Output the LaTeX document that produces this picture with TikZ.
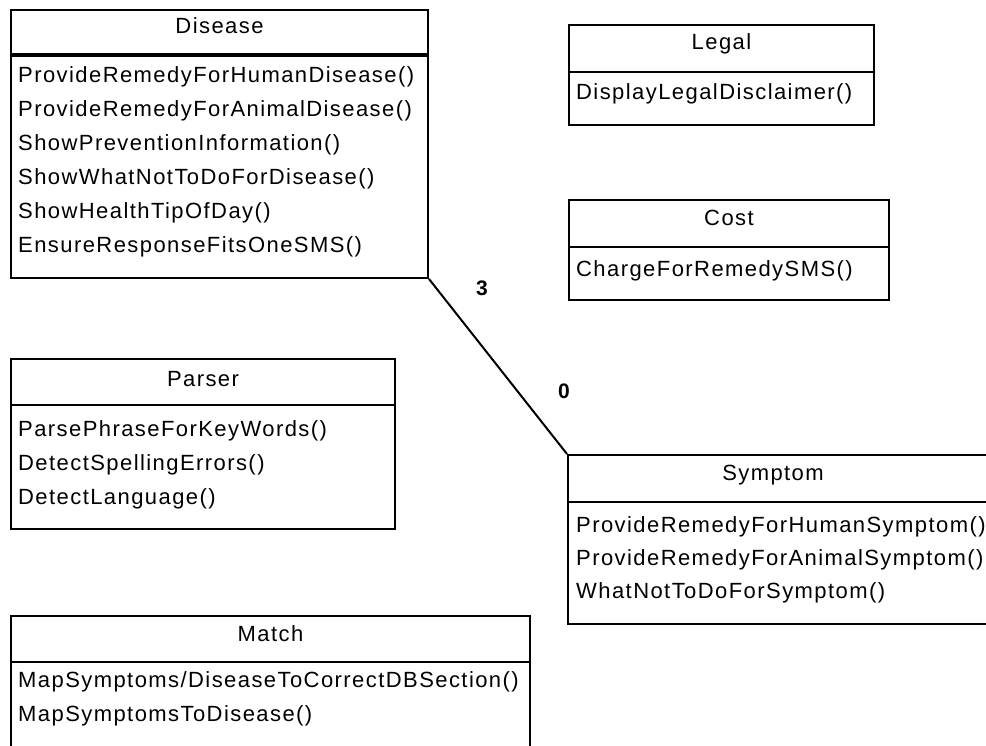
\documentclass[tikz,border=0pt]{standalone}
\usepackage{fontspec}
\newfontfamily\umlfont[LetterSpace=6.5]{Liberation Sans}
\newfontfamily\multfont{Liberation Sans}
\begin{document}
\begin{tikzpicture}[x=1pt,y=-1pt,
  classbox/.style={draw, line width=2pt, anchor=north west, inner sep=0pt},
  sepline/.style={line width=2pt},
  ctitle/.style={anchor=base, inner sep=0pt, font=\umlfont\fontsize{22}{26}\selectfont},
  method/.style={anchor=base west, inner sep=0pt, font=\umlfont\fontsize{22}{26}\selectfont},
  mult/.style={inner sep=0pt, font=\multfont\bfseries\fontsize{21}{24}\selectfont},
  assoc/.style={line width=2pt}]
\useasboundingbox (0,0) rectangle (986,746);
\fill[white] (0,0) rectangle (986,746);
\clip (0,0) rectangle (986,746);

% Disease
\node[classbox, minimum width=417pt, minimum height=268pt] (disease) at (10,9) {};
\draw[line width=3.5pt] (disease.west |- 0,55) -- (disease.east |- 0,55);
\node[ctitle] (diseaseT) at (disease.north |- 0,34) {Disease};
\node[method] (d1) at (18,83) {ProvideRemedyForHumanDisease()};
\node[method] (d2) at (18,117) {ProvideRemedyForAnimalDisease()};
\node[method] (d3) at (18,151) {ShowPreventionInformation()};
\node[method] (d4) at (18,185) {ShowWhatNotToDoForDisease()};
\node[method] (d5) at (18,219) {ShowHealthTipOfDay()};
\node[method] (d6) at (18,253) {EnsureResponseFitsOneSMS()};

% Legal
\node[classbox, minimum width=305pt, minimum height=100pt] (legal) at (568,24) {};
\draw[sepline] (legal.west |- 0,72) -- (legal.east |- 0,72);
\node[ctitle] (legalT) at (legal.north |- 0,50) {Legal};
\node[method] (l1) at (576,100) {DisplayLegalDisclaimer()};

% Cost
\node[classbox, minimum width=320pt, minimum height=100pt] (cost) at (568,199) {};
\draw[sepline] (cost.west |- 0,247) -- (cost.east |- 0,247);
\node[ctitle] (costT) at (cost.north |- 0,226) {Cost};
\node[method] (c1) at (576,277) {ChargeForRemedySMS()};

% Parser
\node[classbox, minimum width=384pt, minimum height=170pt] (parser) at (10,358) {};
\draw[sepline] (parser.west |- 0,405) -- (parser.east |- 0,405);
\node[ctitle] (parserT) at (parser.north |- 0,386) {Parser};
\node[method] (p1) at (18,436) {ParsePhraseForKeyWords()};
\node[method] (p2) at (18,470) {DetectSpellingErrors()};
\node[method] (p3) at (18,504) {DetectLanguage()};

% Symptom (runs past the right edge)
\node[classbox, minimum width=436pt, minimum height=169pt] (symptom) at (567,454) {};
\draw[sepline] (symptom.west |- 0,502) -- (symptom.east |- 0,502);
\node[ctitle] (symptomT) at (773,480) {Symptom};
\node[method] (s1) at (576,532) {ProvideRemedyForHumanSymptom()};
\node[method] (s2) at (576,565) {ProvideRemedyForAnimalSymptom()};
\node[method] (s3) at (576,598) {WhatNotToDoForSymptom()};

% Match (runs past the bottom edge)
\node[classbox, minimum width=519pt, minimum height=160pt] (match) at (10,615) {};
\draw[sepline] (match.west |- 0,662) -- (match.east |- 0,662);
\node[ctitle] (matchT) at (match.north |- 0,641) {Match};
\node[method] (m1) at (18,687) {MapSymptoms/DiseaseToCorrectDBSection()};
\node[method] (m2) at (18,721) {MapSymptomsToDisease()};

% Association Disease -- Symptom with multiplicities
\draw[assoc] (disease.south east) -- (symptom.north west);
\node[mult] (mult3) at (482,288) {3};
\node[mult] (mult0) at (564,391) {0};
\end{tikzpicture}
\end{document}
